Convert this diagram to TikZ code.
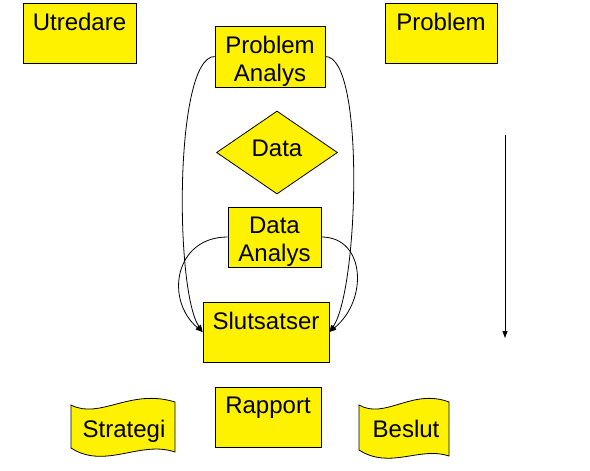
\documentclass[tikz,border=0pt]{standalone}
\usepackage{fontspec}
\setmainfont{Liberation Sans}
\usetikzlibrary{arrows.meta,shapes.geometric}

\tikzset{
  box/.style={draw=black,fill=yellow,minimum width=#1,minimum height=60pt,inner sep=0pt},
  lbl/.style={anchor=north,inner sep=0pt,align=center,yshift=-10pt},
  wave/.style={draw=black,fill=yellow}
}

\begin{document}
\begin{tikzpicture}[x=1pt,y=-1pt,>={Triangle[length=7pt,width=5pt]},
  font=\fontsize{24}{28}\selectfont,line width=0.8pt]
\useasboundingbox (0,0) rectangle (590,471);
% top row
\node[box=113pt,label={[lbl]north:Utredare}] (utr) at (79.5,33) {};
\node[box=112pt,label={[lbl]north:Problem}] (prob) at (441,33) {};
% middle column
\node[box=110pt,minimum height=61pt,label={[lbl]north:Problem\\Analys}] (pa) at (270,56.5) {};
\node[diamond,draw=black,fill=yellow,minimum width=121pt,minimum height=83pt,inner sep=0pt,
  label={[anchor=center,inner sep=0pt,yshift=4pt]center:Data}] (data) at (277,152.5) {};
\node[box=93pt,label={[lbl]north:Data\\Analys}] (da) at (274.5,237) {};
\node[box=126pt,label={[lbl]north:Slutsatser}] (slut) at (266,332) {};
\node[box=106pt,label={[lbl]north:Rapport}] (rap) at (268,417) {};
% bottom flags
\draw[wave] (71,405) .. controls (100,420) and (130,388) .. (175,402) -- (175,452)
  .. controls (140,440) and (105,470) .. (71,448) -- cycle;
\node[anchor=base] (strat) at (124,437) {Strategi};
\draw[wave] (359,405) .. controls (385,420) and (412,388) .. (449,402) -- (449,456)
  .. controls (420,446) and (390,470) .. (359,450) -- cycle;
\node[anchor=base] (besl) at (406,437) {Beslut};
% connectors
\draw[->] (pa.west) .. controls +(-40,0) and +(-28,-42) .. (slut.west);
\draw[->] (da.west) .. controls +(-53,0) and +(-38,-32) .. (slut.west);
\draw[->] (pa.east) .. controls +(40,0) and +(29,-42) .. (slut.east);
\draw[->] (da.east) .. controls +(44,0) and +(39,-32) .. (slut.east);
% time arrow
\coordinate (ttop) at (505,135);
\coordinate (tbot) at (505,338);
\draw[->] (ttop) -- (tbot);
\end{tikzpicture}
\end{document}
